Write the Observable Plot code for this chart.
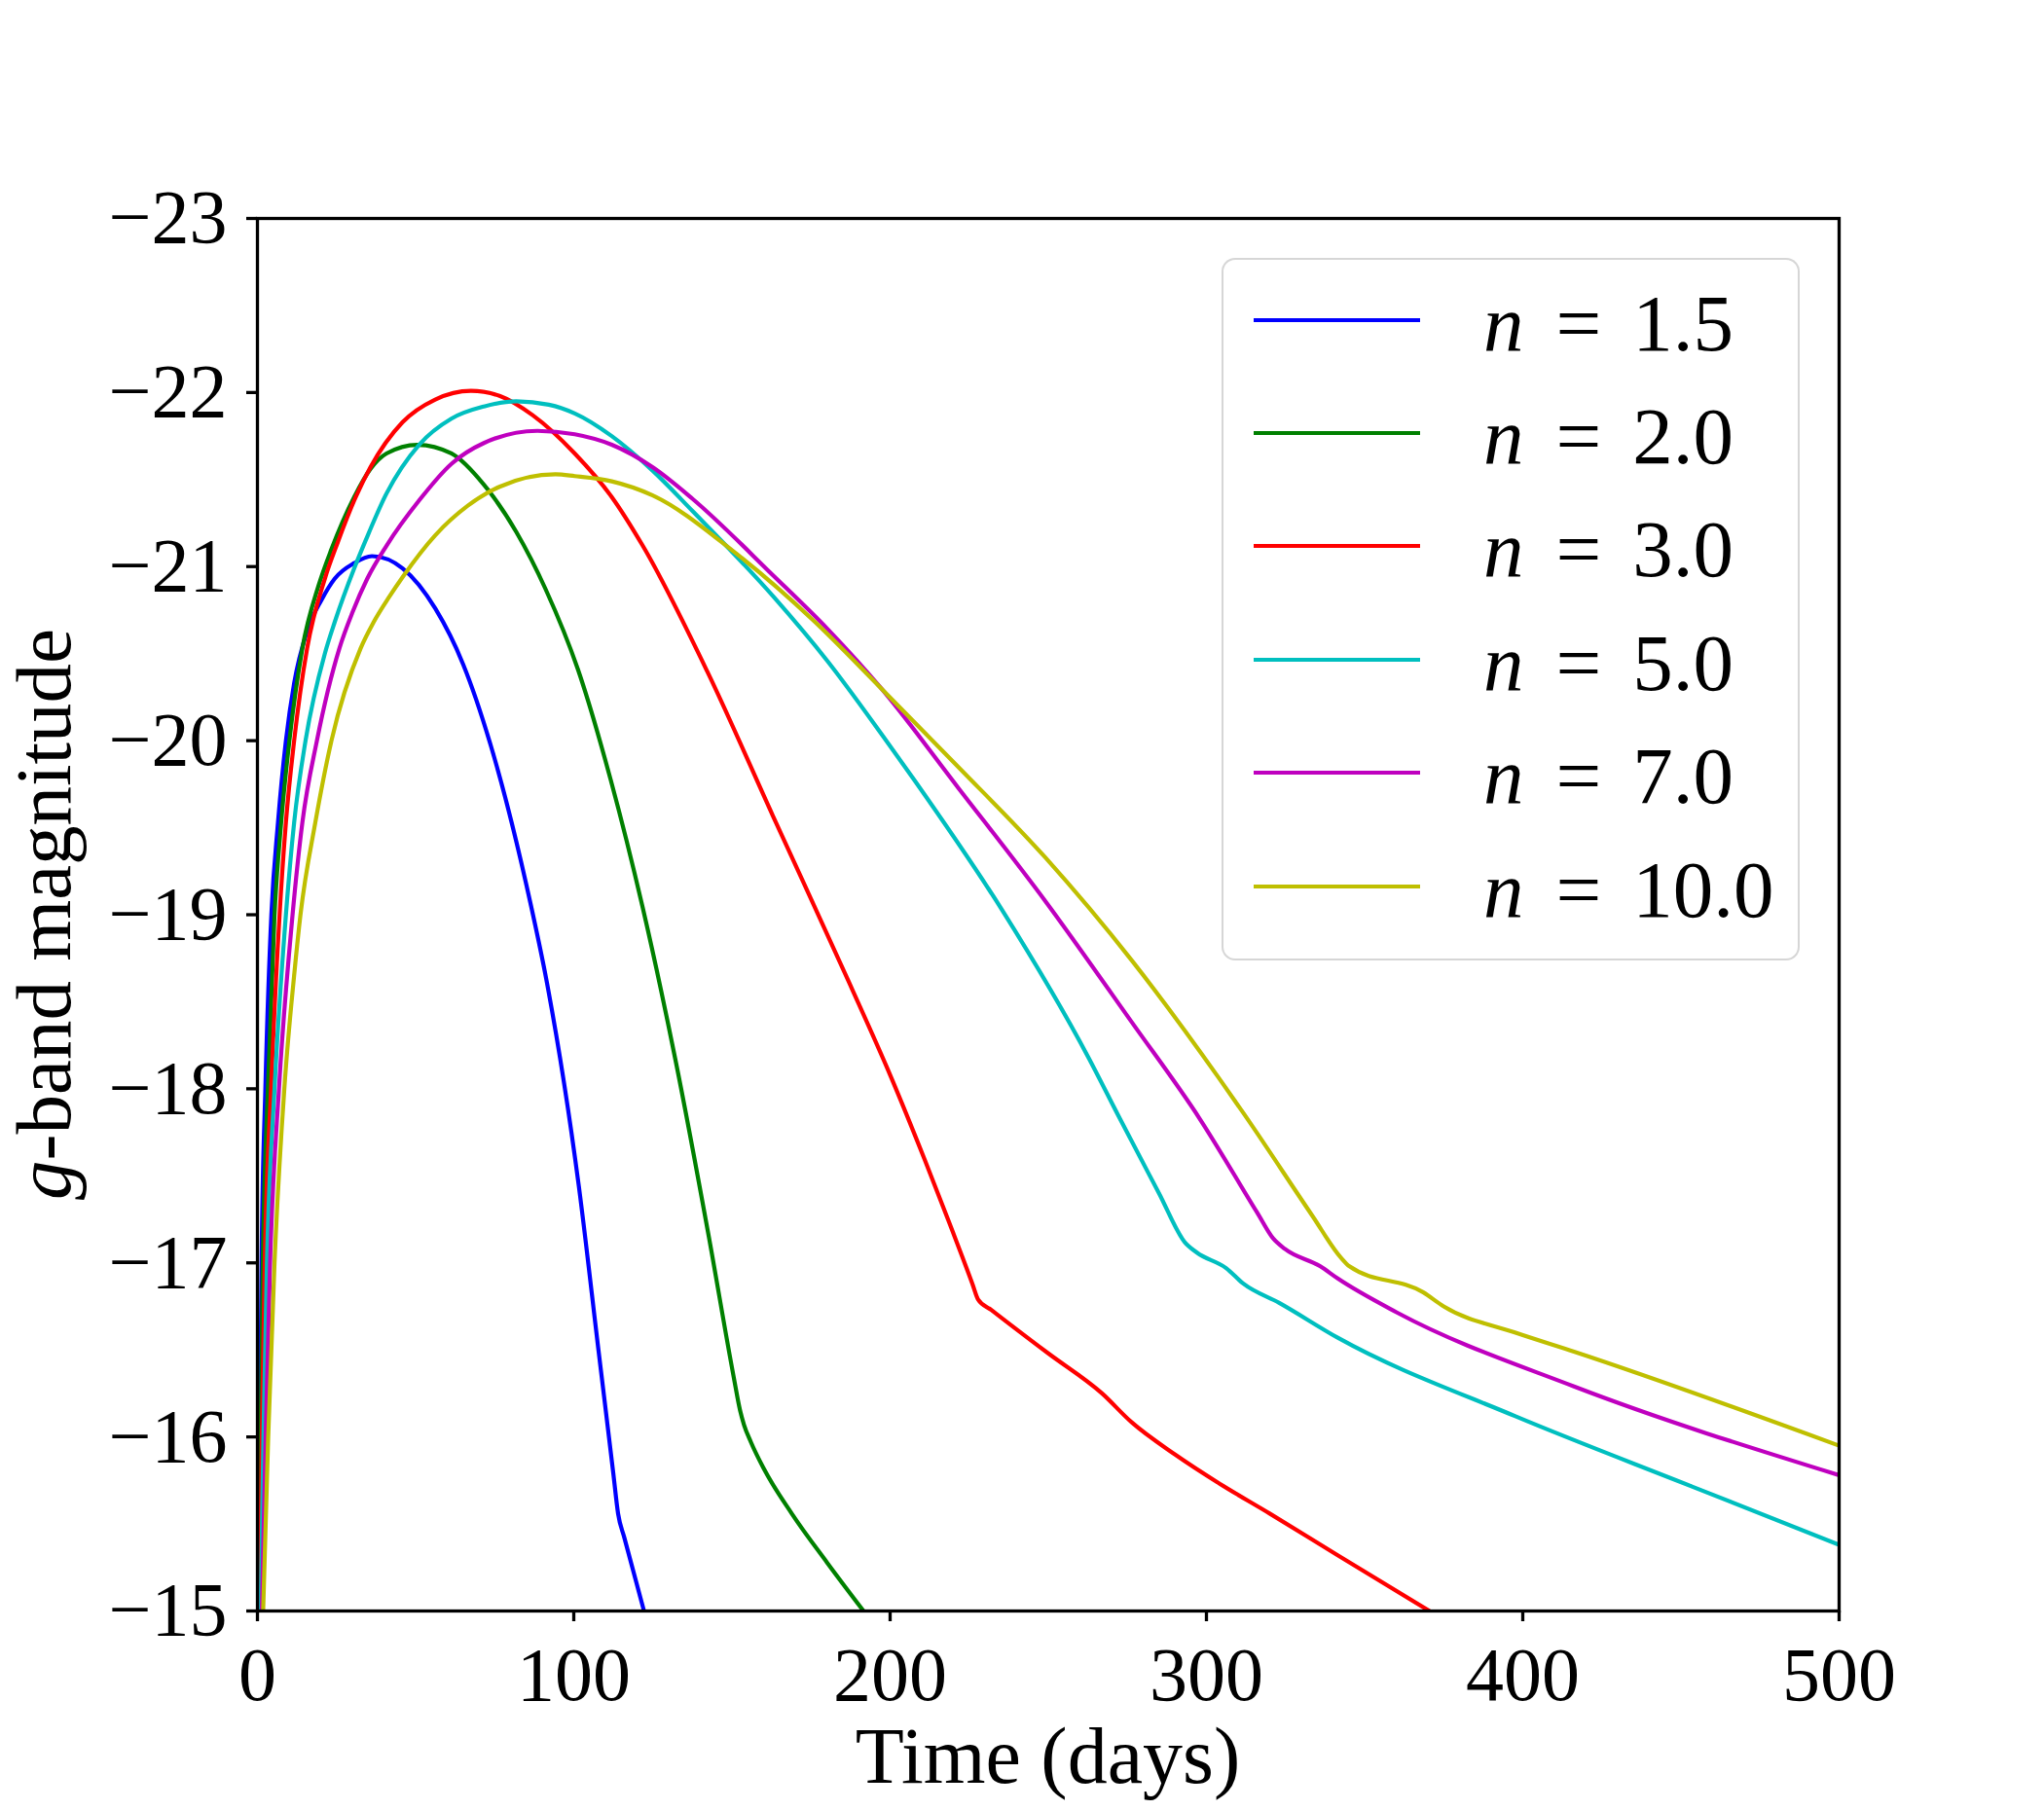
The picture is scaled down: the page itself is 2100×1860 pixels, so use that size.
<!DOCTYPE html>
<html><head><meta charset="utf-8">
<script src="https://cdn.jsdelivr.net/npm/d3@7"></script>
<script src="https://cdn.jsdelivr.net/npm/@observablehq/plot@0.6"></script>
<style>
body{margin:0;background:#fff;}
#wrap{position:relative;width:2100px;height:1860px;font-family:"Liberation Serif",serif;}
#legend{position:absolute;left:1255px;top:265px;width:594px;height:722px;box-sizing:border-box;border:2px solid rgba(204,204,204,0.8);border-radius:14px;background:rgba(255,255,255,0.8);}
.sw{position:absolute;left:31px;width:171px;height:4px;}
.lab{position:absolute;left:267px;font-size:83px;line-height:83px;white-space:nowrap;color:#000;}
.lab i{display:inline-block;}
.lab .eq{display:inline-block;margin:0 32px 0 33px;}
</style></head>
<body><div id="wrap"></div>
<script>
// ---- data (time in days, g-band magnitude) ----
const labels = ["1.5", "2.0", "3.0", "5.0", "7.0", "10.0"];
const colors = ["#0000ff", "#008000", "#ff0000", "#00bfbf", "#bf00bf", "#bfbf00"];
const xTicks = [0, 100, 200, 300, 400, 500];
const yTicks = [-23, -22, -21, -20, -19, -18, -17, -16, -15];

const t_n15 = [0.3, 0.8, 1.3, 2.5, 4.4, 6.5, 9.0, 11.6, 15.7, 20.3, 24.4, 30.6, 36.2, 45.9, 56.2, 65.0, 73.8, 86.5, 91.3, 101.6, 107.8, 112.5, 114.0, 116.0, 122.2];
const m_n15 = [-15.0, -16.0, -17.0, -18.0, -19.0, -19.53, -20.0, -20.33, -20.63, -20.81, -20.93, -21.02, -21.06, -20.99, -20.76, -20.44, -19.97, -19.05, -18.63, -17.44, -16.50, -15.79, -15.56, -15.42, -15.0];

const t_n20 = [0.5, 1.0, 1.7, 3.3, 5.4, 7.5, 10.1, 14.2, 19.3, 23.4, 30.6, 35.7, 40.8, 50.6, 61.3, 71.6, 81.8, 91.1, 101.3, 111.6, 121.8, 132.1, 142.4, 150.6, 152.6, 153.8, 156.0, 160.0, 168.9, 180.0, 191.6];
const m_n20 = [-15.0, -16.0, -17.0, -18.0, -19.0, -19.53, -20.0, -20.53, -20.89, -21.10, -21.40, -21.56, -21.65, -21.70, -21.65, -21.47, -21.20, -20.87, -20.41, -19.78, -19.04, -18.17, -17.18, -16.34, -16.15, -16.07, -15.97, -15.82, -15.56, -15.28, -15.0];

const t_n30 = [0.7, 1.4, 2.3, 4.3, 7.0, 9.0, 11.6, 15.7, 21.3, 25.4, 30.6, 35.7, 45.9, 56.2, 67.5, 76.7, 87.0, 100.3, 112.0, 121.8, 142.4, 162.9, 186.8, 200.0, 211.0, 218.5, 226.0, 227.8, 232.0, 250.0, 267.0, 276.3, 290.0, 304.3, 320.0, 341.5, 370.5];
const m_n30 = [-15.0, -16.0, -17.0, -18.0, -19.0, -19.53, -20.0, -20.53, -20.93, -21.14, -21.38, -21.57, -21.83, -21.96, -22.01, -21.98, -21.87, -21.65, -21.40, -21.12, -20.39, -19.57, -18.62, -18.08, -17.59, -17.24, -16.88, -16.79, -16.73, -16.48, -16.25, -16.085, -15.9, -15.73, -15.56, -15.32, -15.0];

const t_n50 = [1.0, 1.9, 3.0, 5.4, 9.0, 11.6, 15.2, 21.3, 24.4, 30.6, 34.2, 40.8, 51.1, 61.3, 71.6, 81.8, 92.1, 100.3, 112.0, 125.0, 137.5, 163.0, 180.3, 197.2, 207.8, 235.3, 262.7, 272.6, 285.0, 293.1, 296.9, 306.2, 311.7, 323.0, 341.5, 397.5, 453.5, 500];
const m_n50 = [-15.0, -16.0, -17.0, -18.0, -19.0, -19.53, -20.0, -20.5, -20.68, -20.99, -21.15, -21.42, -21.70, -21.85, -21.92, -21.95, -21.93, -21.88, -21.75, -21.55, -21.32, -20.83, -20.455, -20.04, -19.77, -19.03, -18.18, -17.83, -17.40, -17.12, -17.06, -16.97, -16.88, -16.77, -16.57, -16.12, -15.715, -15.38];

const t_n70 = [1.4, 2.6, 4.0, 6.8, 11.1, 14.2, 18.8, 25.9, 30.1, 34.7, 40.8, 51.1, 61.3, 71.6, 88.5, 100.3, 112.0, 125.0, 137.5, 163.0, 180.3, 197.2, 221.5, 249.0, 276.5, 297.8, 316.0, 321.1, 324.8, 336.0, 341.5, 360.2, 416.2, 500];
const m_n70 = [-15.0, -16.0, -17.0, -18.0, -19.0, -19.53, -20.0, -20.53, -20.74, -20.93, -21.12, -21.38, -21.59, -21.71, -21.78, -21.76, -21.70, -21.57, -21.39, -20.95, -20.64, -20.30, -19.73, -19.08, -18.38, -17.83, -17.29, -17.14, -17.08, -16.98, -16.91, -16.715, -16.29, -15.78];

const t_n100 = [1.8, 3.4, 5.4, 8.5, 11.7, 13.6, 18.3, 23.4, 32.6, 36.7, 41.8, 45.9, 56.2, 66.5, 76.7, 94.2, 100.3, 112.0, 124.8, 150.3, 175.8, 197.2, 221.5, 249.0, 276.5, 304.0, 311.7, 333.5, 342.5, 345.2, 368.6, 375.0, 397.5, 416.2, 500];
const m_n100 = [-15.0, -16.0, -17.0, -18.0, -18.67, -19.0, -19.53, -20.0, -20.53, -20.68, -20.83, -20.94, -21.18, -21.35, -21.46, -21.53, -21.52, -21.49, -21.41, -21.09, -20.69, -20.30, -19.85, -19.33, -18.735, -18.06, -17.86, -17.27, -17.03, -16.98, -16.83, -16.75, -16.60, -16.49, -15.95];

const seriesT = [t_n15, t_n20, t_n30, t_n50, t_n70, t_n100];
const seriesM = [m_n15, m_n20, m_n30, m_n50, m_n70, m_n100];

const rows = [];
seriesT.forEach((ts, i) => ts.forEach((t, j) => rows.push({t, m: seriesM[i][j], n: labels[i]})));

const chart = Plot.plot({
  width: 2100, height: 1860,
  marginLeft: 264, marginRight: 211, marginTop: 224, marginBottom: 205,
  style: {fontFamily: "'Liberation Serif', serif", fontSize: "78px", color: "black", background: "white", overflow: "visible"},
  x: {domain: [0, 500]},
  y: {domain: [-15, -23]},
  color: {domain: labels, range: colors},
  marks: [
    Plot.line(rows, {x: "t", y: "m", z: "n", stroke: "n", strokeWidth: 4.2, curve: "monotone-x", clip: true}),
    Plot.frame({stroke: "black", strokeWidth: 3.3}),
    Plot.axisX({ticks: xTicks, tickSize: 11, tickPadding: 25, strokeWidth: 3.3, label: null, tickFormat: d => String(d)}),
    Plot.axisY({ticks: yTicks, tickSize: 11, tickPadding: 20, strokeWidth: 3.3, label: null, tickFormat: d => "\u2212" + Math.abs(d)})
  ]
});

const wrap = document.getElementById("wrap");
wrap.appendChild(chart);

// axis titles
const xs = chart.scale("x"), ys = chart.scale("y");
const svg = d3.select(chart);
const xMid = (xs.range[0] + xs.range[1]) / 2;
const yMid = (ys.range[0] + ys.range[1]) / 2;
svg.append("text").attr("x", xMid).attr("y", ys.range[0] + 177)
  .attr("text-anchor", "middle").attr("font-size", 82).attr("fill", "black")
  .text("Time (days)");
const yl = svg.append("text").attr("transform", `translate(${xs.range[0] - 192},${yMid}) rotate(-90)`)
  .attr("text-anchor", "middle").attr("font-size", 81).attr("fill", "black");
yl.append("tspan").attr("font-style", "italic").text("g");
yl.append("tspan").text("-band magnitude");

// legend
const leg = document.createElement("div");
leg.id = "legend";
labels.forEach((lab, i) => {
  const cy = 61.5 + 116.4 * i;
  const sw = document.createElement("div");
  sw.className = "sw";
  sw.style.top = (cy - 2) + "px";
  sw.style.background = colors[i];
  leg.appendChild(sw);
  const tx = document.createElement("div");
  tx.className = "lab";
  tx.style.top = (cy - 38) + "px";
  tx.innerHTML = `<i>n</i><span class="eq">=</span>${lab}`;
  leg.appendChild(tx);
});
wrap.appendChild(leg);
</script>
</body></html>
